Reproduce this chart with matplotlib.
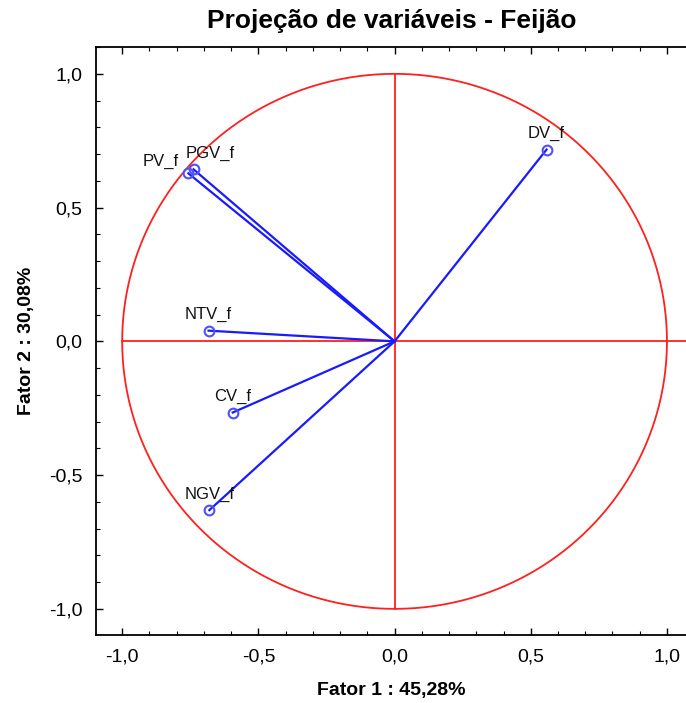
#!/usr/bin/env python3

import numpy as np
import matplotlib
matplotlib.use('Agg')
import matplotlib.pyplot as plt
from matplotlib.ticker import MultipleLocator, FuncFormatter

plt.rcParams['font.family'] = ['Liberation Sans', 'DejaVu Sans']

# variable loadings on factor 1 / factor 2
names = ['DV_f', 'PGV_f', 'PV_f', 'NTV_f', 'CV_f', 'NGV_f']
fator1 = [0.558, -0.738, -0.757, -0.683, -0.594, -0.680]
fator2 = [0.717, 0.643, 0.628, 0.040, -0.266, -0.631]

title = 'Projeção de variáveis - Feijão'
xlabel = 'Fator 1 : 45,28%'
ylabel = 'Fator 2 : 30,08%'

# label offsets (points) for the crowded pair
offs = {'PGV_f': (12, 6), 'PV_f': (-20, 3)}

fig = plt.figure(figsize=(6.86, 7.03), dpi=100)
ax = fig.add_axes([0.140, 0.097, 0.862, 0.836])

# unit circle and axes cross
t = np.linspace(0, 2*np.pi, 400)
ax.plot(np.cos(t), np.sin(t), color='#ff2020', lw=1.3, zorder=1)
ax.plot([-1, 1.2], [0, 0], color='#ff2020', lw=1.3, zorder=1)
ax.plot([0, 0], [-1, 1], color='#ff2020', lw=1.3, zorder=1)

for n, x, y in zip(names, fator1, fator2):
    ax.plot([0, x], [0, y], color='#1a1aff', lw=1.6, zorder=2)
    ax.plot(x, y, 'o', ms=7, mfc='none', mec='#5050ff', mew=1.5, zorder=3)
    dx, dy = offs.get(n, (0, 6))
    ax.annotate(n, (x, y), xytext=(dx, dy), textcoords='offset points',
                ha='center', va='bottom', fontsize=12, color='#111111')

ax.set_xlim(-1.096, 1.075)
ax.set_ylim(-1.097, 1.10)
ax.xaxis.set_major_locator(MultipleLocator(0.5))
ax.yaxis.set_major_locator(MultipleLocator(0.5))
ax.xaxis.set_minor_locator(MultipleLocator(0.1))
ax.yaxis.set_minor_locator(MultipleLocator(0.1))
fmt = FuncFormatter(lambda v, p: ('%.1f' % v).replace('.', ',').replace('-0,0', '0,0'))
ax.xaxis.set_major_formatter(fmt)
ax.yaxis.set_major_formatter(fmt)
ax.tick_params(which='both', direction='in', top=True, right=False, labelsize=14)
ax.tick_params(which='major', length=5, width=1)
ax.tick_params(which='minor', length=3, width=0.8)
ax.tick_params(axis='x', pad=10)
ax.tick_params(axis='y', pad=10)
ax.spines['right'].set_visible(False)
for s in ['left', 'top', 'bottom']:
    ax.spines[s].set_linewidth(1.3)

ax.set_title(title, fontsize=19, fontweight='bold', pad=13.5)
ax.set_xlabel(xlabel, fontsize=14, fontweight='bold', labelpad=12)
ax.set_ylabel(ylabel, fontsize=14, fontweight='bold', labelpad=10)

fig.savefig('out.png', dpi=100)
